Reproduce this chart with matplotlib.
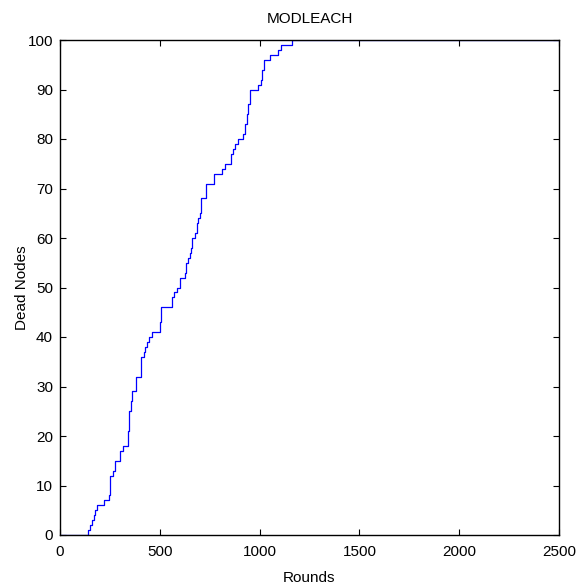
import numpy as np
import matplotlib
matplotlib.use('Agg')
import matplotlib.pyplot as plt

plt.rcParams['font.family'] = ['Liberation Sans', 'DejaVu Sans']

# rounds where the dead-node count changes, and the count from that round on
rounds = [0, 142, 148, 162, 168, 175, 185, 220, 245, 248,
          252, 268, 276, 299, 316, 342, 348, 356, 362, 382,
          404, 408, 421, 428, 435, 445, 462, 499, 505, 563,
          570, 588, 601, 626, 630, 641, 650, 656, 663, 675,
          685, 690, 700, 705, 730, 771, 813, 827, 855, 865,
          878, 890, 917, 925, 935, 943, 950, 992, 1005, 1013,
          1022, 1051, 1094, 1105, 1161, 2500]
dead = [0, 1, 2, 3, 4, 5, 6, 7, 8, 10,
        12, 13, 15, 17, 18, 21, 25, 27, 29, 32,
        33, 36, 37, 38, 39, 40, 41, 43, 46, 48,
        49, 50, 52, 53, 55, 56, 57, 58, 60, 61,
        63, 64, 65, 68, 71, 73, 74, 75, 77, 78,
        79, 80, 81, 83, 85, 87, 90, 91, 92, 94,
        96, 97, 98, 99, 100, 100]

fig = plt.figure(figsize=(5.76, 5.86), dpi=100)
ax = fig.add_axes([60 / 576, 1 - 535 / 586, 499 / 576, 495 / 586])

ax.plot(rounds, dead, drawstyle='steps-post', color='#0000ff', lw=0.9)

ax.set_xlim(0, 2500)
ax.set_ylim(0, 100)
ax.set_xticks(np.arange(0, 2501, 500))
ax.set_yticks(np.arange(0, 101, 10))
ax.tick_params(direction='in', top=True, right=True, labelsize=11,
               length=4, width=0.8)
ax.tick_params(axis='x', pad=7)
ax.tick_params(axis='y', pad=5)
for s in ax.spines.values():
    s.set_linewidth(1.0)

ax.set_title('MODLEACH', fontsize=11, pad=12)
ax.set_xlabel('Rounds', fontsize=11, labelpad=9)
ax.set_ylabel('Dead Nodes', fontsize=11)
ax.yaxis.set_label_coords(-0.062, 0.5)

fig.savefig('out.png', dpi=100)
